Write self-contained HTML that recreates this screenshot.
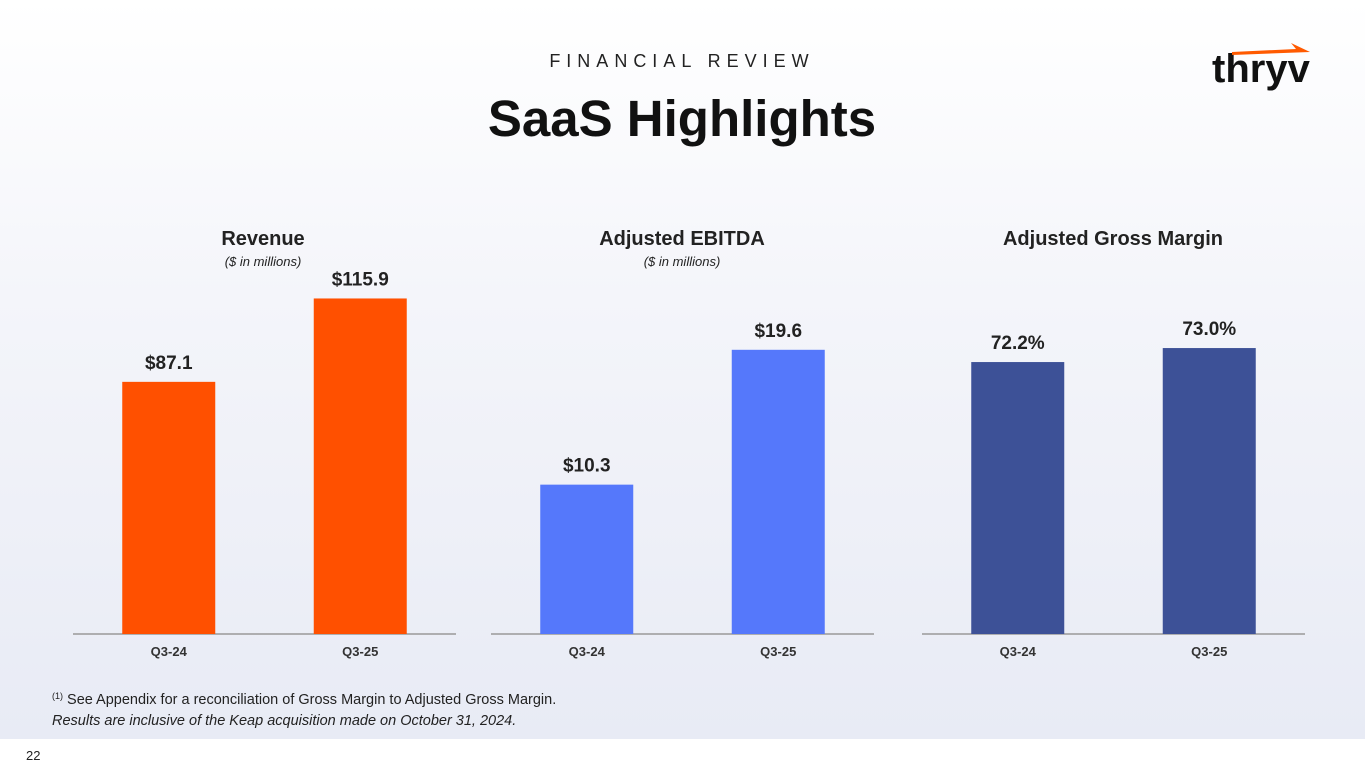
<!DOCTYPE html>
<html><head><meta charset="utf-8"><style>
body{margin:0;width:1365px;height:768px;overflow:hidden;background:#fff;font-family:"Liberation Sans","DejaVu Sans",sans-serif}
#bg{position:absolute;left:0;top:0;width:1365px;height:739px;background:linear-gradient(#ffffff 0%,#f4f5fa 40%,#e8ebf5 100%)}
svg{position:absolute;left:0;top:0}
</style></head><body>
<div id="bg"></div>
<svg id="s" width="1365" height="768">
<text x="682" y="67" text-anchor="middle" font-size="18" letter-spacing="6" fill="#222">FINANCIAL REVIEW</text>
<text x="682" y="136" text-anchor="middle" font-size="51" font-weight="bold" fill="#111">SaaS Highlights</text>
<g>
<text x="1212" y="82" font-size="40" font-weight="bold" fill="#111" letter-spacing="0">thryv</text>
<path d="M1232 52 L1296 49 L1291 43 L1310 52 L1232 55 Z" fill="#ff5a00"/>
</g>
<text x="263" y="245" text-anchor="middle" font-size="20" font-weight="bold" fill="#222">Revenue</text>
<text x="263" y="266" text-anchor="middle" font-size="13" font-style="italic" fill="#222">($ in millions)</text>
<text x="682" y="245" text-anchor="middle" font-size="20" font-weight="bold" fill="#222">Adjusted EBITDA</text>
<text x="682" y="266" text-anchor="middle" font-size="13" font-style="italic" fill="#222">($ in millions)</text>
<text x="1113" y="245" text-anchor="middle" font-size="20" font-weight="bold" fill="#222">Adjusted Gross Margin</text>
<g id="charts"></g>
<text x="52" y="704" font-size="14.5" fill="#222"><tspan font-size="9" dy="-5">(1)</tspan><tspan dy="5"> See Appendix for a reconciliation of Gross Margin to Adjusted Gross Margin.</tspan></text>
<text x="52" y="725" font-size="14.5" font-style="italic" fill="#222">Results are inclusive of the Keap acquisition made on October 31, 2024.</text>
<text x="26" y="760" font-size="13" fill="#222">22</text>
</svg>
<script>
const categories=["Q3-24","Q3-25"];
const revenueValues=[87.1,115.9];
const revenueLabels=["$87.1","$115.9"];
const ebitdaValues=[10.3,19.6];
const ebitdaLabels=["$10.3","$19.6"];
const marginValues=[72.2,73.0];
const marginLabels=["72.2%","73.0%"];
const NS="http://www.w3.org/2000/svg";
const g=document.getElementById('charts');
function mk(t,a){const e=document.createElementNS(NS,t);for(const k in a)e.setAttribute(k,a[k]);g.appendChild(e);return e;}
function chart(name,x0,x1,vals,labels,color,yMin,pxPerUnit){
  const base=634;
  const y=v=>base-(v-yMin)*pxPerUnit;
  const ax=mk('line',{x1:x0,x2:x1,y1:base,y2:base,stroke:'#999','stroke-width':1.5});
  
  
  const w=(x1-x0)/2;
  vals.forEach((v,i)=>{
    const cx=x0+w*(i+0.5);
    const r=mk('rect',{x:cx-46.5,y:y(v),width:93,height:base-y(v),fill:color});
    
    
    const t=mk('text',{x:cx,y:y(v)-13,'text-anchor':'middle','font-size':19,'font-weight':'bold',fill:'#222'});
    t.textContent=labels[i];
    
    
    const c=mk('text',{x:cx,y:656,'text-anchor':'middle','font-size':13,'font-weight':'bold',fill:'#333'});
    c.textContent=categories[i];
    
    
  });
}
chart('revenue',73,456,revenueValues,revenueLabels,'#ff5000',0,2.895);
chart('ebitda',491,874,ebitdaValues,ebitdaLabels,'#5578fb',0,14.5);
chart('gross-margin',922,1305,marginValues,marginLabels,'#3d5197',56.66,17.5);
</script>
</body></html>
